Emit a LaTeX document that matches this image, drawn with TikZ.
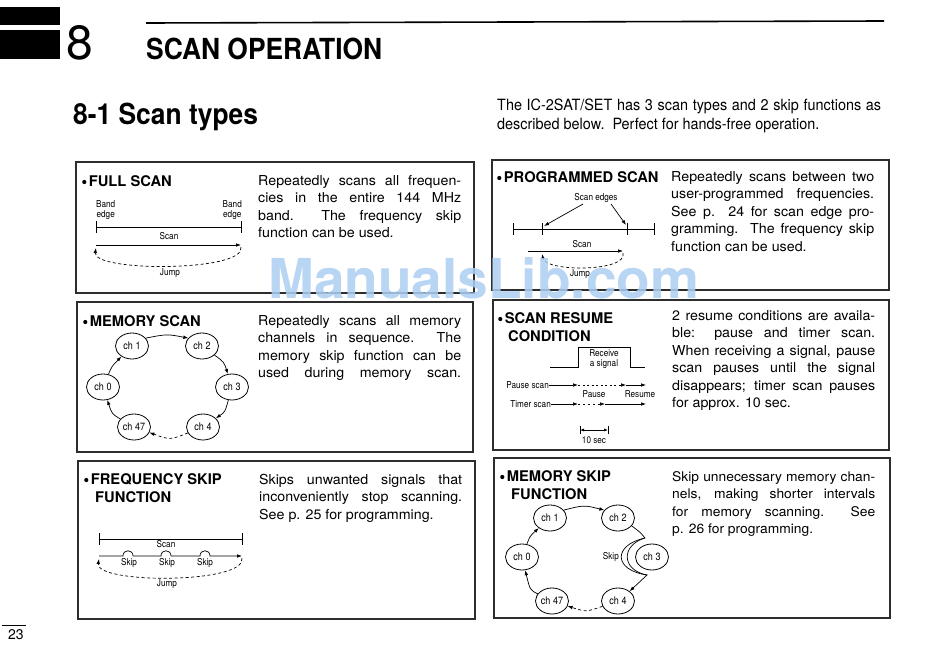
\documentclass[tikz,border=0pt]{standalone}
\usepackage{fontspec}
\setmainfont{TeX Gyre Heros}
\newfontfamily\cond{TeX Gyre Heros}[FakeStretch=0.86]
\newfontfamily\condb{TeX Gyre Heros}[FakeStretch=0.91]
\newfontfamily\introf{TeX Gyre Heros}[FakeStretch=0.93]
\newfontfamily\bodyf{TeX Gyre Heros}[FakeStretch=1.04]
\usetikzlibrary{arrows.meta,shapes.geometric}
\definecolor{boxc}{RGB}{45,45,45}
\definecolor{wmark}{RGB}{172,206,242}
\newcommand\mybul{\tikz[baseline=-4pt]\fill (0,0) circle (2.1pt);\hspace{2.5pt}}
\begin{document}
\begin{tikzpicture}[x=1pt,y=-1pt,
  box/.style={draw=boxc, line width=1.3pt},
  ttl/.style={anchor=base west, inner sep=0pt, font=\fontsize{14.7}{17.5}\selectfont\bfseries},
  body/.style={anchor=north west, inner sep=0pt, text width=203pt, align=justify, font=\bodyf\fontsize{13.7}{17.5}\selectfont},
  lbl/.style={inner sep=0pt, font=\cond\fontsize{9.5}{10}\selectfont},
  chn/.style={draw, ellipse, minimum width=33pt, minimum height=26pt, inner sep=0pt, line width=0.8pt, font=\cond\fontsize{10.5}{11}\selectfont},
  arr/.style={-{Latex[length=5pt,width=3.6pt]}, line width=0.7pt},
  dsh/.style={dash pattern=on 3pt off 2.5pt},
  tick/.style={line width=0.9pt},
]
\useasboundingbox[fill=white] (0,0) rectangle (950,664);

% ---------- header ----------
\fill (0,7) rectangle (60,25);
\fill (0,30) rectangle (60,59);
\node[anchor=base west, inner sep=0pt, font=\fontsize{48}{48}\selectfont] (chap) at (66,59) {8};
\draw[line width=1.6pt] (146,23) -- (884,21);
\node[anchor=base west, inner sep=0pt, font=\condb\fontsize{29}{30}\selectfont\bfseries] (head) at (146,59) {SCAN OPERATION};
\node[anchor=base west, inner sep=0pt, font=\condb\fontsize{29}{30}\selectfont\bfseries] (sec) at (73,124) {8-1 Scan types};
\node[anchor=north west, inner sep=0pt, text width=384pt, align=justify, font=\introf\fontsize{15.5}{19}\selectfont] (intro) at (497,96.7)
  {\strut The IC-2SAT/SET has 3 scan types and 2 skip functions as\linebreak described below.\ \ Perfect for hands-free operation.};

% ---------- boxes ----------
\draw[box] (76,162) rectangle (474,293);
\draw[box] (492,160) rectangle (889,290);
\draw[box] (77,302) rectangle (473,452);
\draw[box] (493,300) rectangle (889,450);
\draw[box] (78,461) rectangle (475,619);
\draw[box] (494,458) rectangle (890,618);

% ---------- titles ----------
\node[ttl] (ti1) at (82,186) {\mybul FULL SCAN};
\node[ttl] (ti2) at (497,182) {\mybul PROGRAMMED SCAN};
\node[ttl] (ti3) at (83,326) {\mybul MEMORY SCAN};
\node[ttl] (ti4a) at (498,323) {\mybul SCAN RESUME};
\node[ttl] (ti4b) at (508,341) {CONDITION};
\node[ttl] (ti5a) at (84,484) {\mybul FREQUENCY SKIP};
\node[ttl] (ti5b) at (95,502) {FUNCTION};
\node[ttl] (ti6a) at (500,481) {\mybul MEMORY SKIP};
\node[ttl] (ti6b) at (511,499) {FUNCTION};

% ---------- body texts ----------
\node[body] (b1) at (258,172.75) {\strut Repeatedly scans all frequen-\linebreak cies in the entire 144 MHz\linebreak band.\ \ The frequency skip\linebreak function can be used.};
\node[body] (b2) at (671,168.75) {\strut Repeatedly scans between two\linebreak user-programmed frequencies.\linebreak See p. 24 for scan edge pro-\linebreak gramming.\ \ The frequency skip\linebreak function can be used.};
\node[body] (b3) at (258,312.75) {\strut Repeatedly scans all memory\linebreak channels in sequence.\ \ The\linebreak memory skip function can be\linebreak \makebox[203pt][s]{used during memory scan.}};
\node[body] (b4) at (672,307.75) {\strut 2 resume conditions are availa-\linebreak ble: pause and timer scan.\linebreak When receiving a signal, pause\linebreak scan pauses until the signal\linebreak disappears; timer scan pauses\linebreak for approx. 10 sec.};
\node[body] (b5) at (259,471.75) {\strut Skips unwanted signals that\linebreak inconveniently stop scanning.\linebreak See p. 25 for programming.};
\node[body, font=\bodyf\fontsize{13.3}{17.5}\selectfont] (b6) at (672,468.75) {\strut Skip unnecessary memory chan-\linebreak nels, making shorter intervals\linebreak for memory scanning.\ \ See\linebreak p. 26 for programming.};

% ---------- full scan diagram ----------
\coordinate (fsL) at (96,227);
\coordinate (fsR) at (241,227);
\draw[tick] (fsL) -- (fsR);
\draw[tick] ([yshift=6pt]fsL) -- ([yshift=-6pt]fsL);
\draw[tick] ([yshift=6pt]fsR) -- ([yshift=-6pt]fsR);
\node[lbl, align=center, anchor=south west] (be1) at (96,220) {Band\\edge};
\node[lbl, align=center, anchor=south east] (be2) at (242,220) {Band\\edge};
\node[lbl] (fsc) at (169,236) {Scan};
\coordinate (fa1) at (96,245);
\coordinate (fa2) at (241,245);
\draw[arr] (fa1) -- (fa2);
\draw[arr, dsh] (241,247) .. controls (246,272) and (92,272) .. (96,248);
\node[lbl] (fj) at (170,273) {Jump};

% ---------- programmed scan diagram ----------
\coordinate (p1) at (513,229);
\coordinate (p2) at (542,229);
\coordinate (p3) at (627,229);
\coordinate (p4) at (654,229);
\draw[tick] (p1) -- (p4);
\foreach \c in {p1,p2,p3,p4} \draw[tick] ([yshift=6pt]\c) -- ([yshift=-6pt]\c);
\node[lbl] (pse) at (596,198) {Scan edges};
\draw[arr] (583,204) -- ([xshift=2pt,yshift=3pt]p2);
\draw[arr] (611,204) -- ([xshift=-1pt,yshift=4pt]p3);
\node[lbl] (psc) at (582,244) {Scan};
\coordinate (pa1) at (528,251);
\coordinate (pa2) at (623,251);
\draw[arr] (pa1) -- (pa2);
\draw[arr, dsh] (623,253) .. controls (628,272) and (546,272) .. (542,254);
\node[lbl] (pj) at (580,274) {Jump};

% ---------- memory scan diagram ----------
\node[chn] (m1) at (132,346) {ch 1};
\node[chn] (m2) at (202,346) {ch 2};
\node[chn] (m0) at (103,387) {ch 0};
\node[chn] (m3) at (232,387) {ch 3};
\node[chn] (m47) at (134,427) {ch 47};
\node[chn] (m4) at (203,427) {ch 4};
\draw[arr] (m0) .. controls (112,366) .. (m1);
\draw[arr] (m1.30) .. controls (167,334) .. (m2.150);
\draw[arr] (m2) .. controls (224,362) .. (m3);
\draw[arr] (m3) .. controls (225,412) .. (m4);
\draw[arr, dsh] (m4) .. controls (170,440) .. (m47);
\draw[arr] (m47) .. controls (112,414) .. (m0);

% ---------- scan resume diagram ----------
\draw[line width=0.8pt] (550,367) -- (578,367) -- (578,347) -- (630,347) -- (630,367) -- (645,367);
\node[lbl, align=center] (rs) at (604,359) {Receive\\a signal};
\node[lbl, anchor=east] (pst) at (549,385) {Pause scan};
\coordinate (ps1) at (578,385);
\coordinate (ps2) at (626,385);
\coordinate (ps3) at (646,385);
\draw[arr] (pst.east) -- (ps1);
\draw[arr, dash pattern=on 2pt off 2.5pt] (ps1) -- (ps2);
\draw[arr] (ps2) -- (ps3);
\node[lbl] (pau) at (594,394) {Pause};
\node[lbl] (res) at (640,394) {Resume};
\node[lbl, anchor=east] (tst) at (551,404) {Timer scan};
\coordinate (ts1) at (578,404);
\coordinate (ts2) at (605,404);
\coordinate (ts3) at (646,404);
\draw[arr] (tst.east) -- (ts1);
\draw[arr, dash pattern=on 2pt off 3pt] (ts1) -- (ts2);
\draw[arr] (ts2) -- (ts3);
\coordinate (tq1) at (580,430);
\coordinate (tq2) at (608,430);
\draw[{Latex[length=4pt,width=3pt]}-{Latex[length=4pt,width=3pt]}, line width=0.7pt] (tq1) -- (tq2);
\draw[tick, line width=0.7pt] ([yshift=4pt]tq1) -- ([yshift=-4pt]tq1);
\draw[tick, line width=0.7pt] ([yshift=4pt]tq2) -- ([yshift=-4pt]tq2);
\node[lbl] (tsec) at (594,440) {10 sec};

% ---------- frequency skip diagram ----------
\coordinate (kL) at (99,539);
\coordinate (kR) at (242,539);
\draw[tick] (kL) -- (kR);
\draw[tick] ([yshift=6pt]kL) -- ([yshift=-6pt]kL);
\draw[tick] ([yshift=6pt]kR) -- ([yshift=-6pt]kR);
\node[lbl] (ksc) at (166,544) {Scan};
\coordinate (ka1) at (99,556);
\coordinate (ka2) at (242,556);
\draw[arr] (ka1) -- (123,556) .. controls (123,549) and (133,549) .. (133,556)
  -- (161,556) .. controls (161,549) and (171,549) .. (171,556)
  -- (200,556) .. controls (200,549) and (210,549) .. (210,556) -- (ka2);
\node[lbl] (sk1) at (129,563) {Skip};
\node[lbl] (sk2) at (167,563) {Skip};
\node[lbl] (sk3) at (205,563) {Skip};
\draw[arr, dsh] (242,558) .. controls (247,584) and (95,584) .. (99,559);
\node[lbl] (kj) at (167,584) {Jump};

% ---------- memory skip diagram ----------
\node[chn] (s1) at (550,518) {ch 1};
\node[chn] (s2) at (618,518) {ch 2};
\node[chn] (s0) at (522,557) {ch 0};
\node[chn] (s3) at (652,557) {ch 3};
\node[chn] (s47) at (552,601) {ch 47};
\node[chn] (s4) at (618,601) {ch 4};
\draw[arr] (s0) .. controls (530,536) .. (s1);
\draw[arr] (s1.30) .. controls (584,505) .. (s2.150);
\draw[line width=0.7pt] (s2.-30) .. controls (640,532) .. (645,538);
\draw[arr] (645,538) .. controls (613,545) and (613,570) .. (647,575) -- (s4.40);
\draw[line width=0.7pt] (645,538) .. controls (621,545) and (621,570) .. (647,575);
\node[lbl, anchor=east] (skp) at (619,557) {Skip};
\draw[arr, dsh] (s4) .. controls (586,612) .. (s47);
\draw[arr] (s47) .. controls (530,590) .. (s0);

% ---------- page number ----------
\draw[line width=0.8pt] (2,625) -- (26,625);
\node[anchor=base west, inner sep=0pt, font=\fontsize{14}{14}\selectfont] (pg) at (8,639) {23};

% ---------- watermark ----------
\node[anchor=base west, inner sep=0pt, text=wmark, opacity=0.85, font=\fontsize{55}{55}\selectfont\bfseries] (wm) at (268,298) {ManualsLib.com};
\end{tikzpicture}
\end{document}
